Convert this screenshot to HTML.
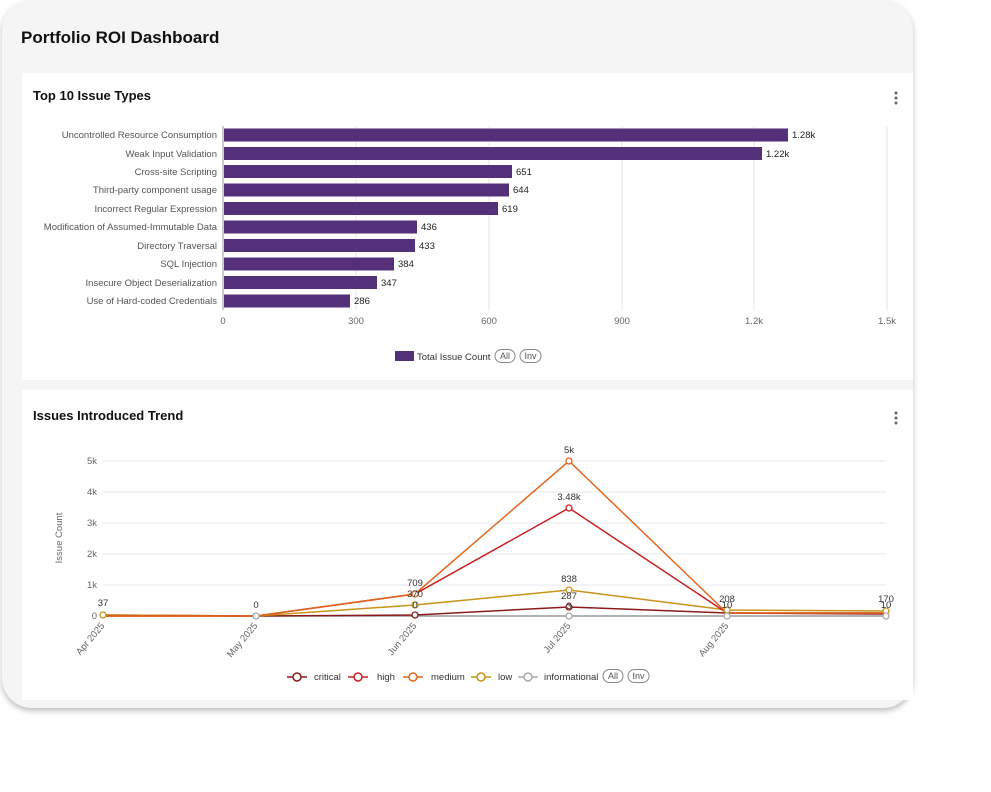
<!DOCTYPE html>
<html><head><style>
body{margin:0;width:991px;height:792px;background:#fff;font-family:"Liberation Sans",sans-serif;overflow:hidden}
.outer{position:absolute;left:2px;top:0;width:911px;height:708px;background:#f5f5f5;border-radius:30px;box-shadow:0 3px 6px rgba(0,0,0,.25)}
.card{position:absolute;left:22px;width:891px;background:#fff}
h1{position:absolute;left:21px;top:28px;margin:0;font-size:17px;font-weight:bold;color:#111}
.t{position:absolute;left:11px;font-size:13px;font-weight:bold;color:#111}
</style></head><body>
<div class="outer"></div>
<h1>Portfolio ROI Dashboard</h1>
<div class="card" style="top:73px;height:307px"><div class="t" style="top:15px">Top 10 Issue Types</div></div>
<div class="card" style="top:390px;height:310px"><div class="t" style="top:18px">Issues Introduced Trend</div></div>
<svg width="991" height="792" style="position:absolute;left:0;top:0" font-family="Liberation Sans,sans-serif">
<g fill="#666"><circle cx="896" cy="93" r="1.5"/><circle cx="896" cy="98" r="1.5"/><circle cx="896" cy="103" r="1.5"/>
<circle cx="896" cy="413" r="1.5"/><circle cx="896" cy="418" r="1.5"/><circle cx="896" cy="423" r="1.5"/></g>
<g stroke="#e6e6e6"><line x1="356" y1="126" x2="356" y2="310"/><line x1="489" y1="126" x2="489" y2="310"/><line x1="622" y1="126" x2="622" y2="310"/><line x1="754" y1="126" x2="754" y2="310"/><line x1="887" y1="126" x2="887" y2="310"/></g>
<line x1="223" y1="126" x2="223" y2="310" stroke="#999"/>
<g font-size="9.5" fill="#666" text-anchor="middle"><text x="223" y="324">0</text><text x="356" y="324">300</text><text x="489" y="324">600</text><text x="622" y="324">900</text><text x="754" y="324">1.2k</text><text x="887" y="324">1.5k</text></g>
<g fill="#55307a">
<rect x="224" y="128.5" width="564" height="13"/><rect x="224" y="147" width="538" height="13"/><rect x="224" y="165" width="288" height="13"/><rect x="224" y="183.5" width="285" height="13"/><rect x="224" y="202" width="274" height="13"/><rect x="224" y="220.5" width="193" height="13"/><rect x="224" y="239" width="191" height="13"/><rect x="224" y="257.5" width="170" height="13"/><rect x="224" y="276" width="153" height="13"/><rect x="224" y="294.5" width="126" height="13"/></g>
<g font-size="9.5" fill="#222">
<text x="792" y="138">1.28k</text><text x="766" y="157">1.22k</text><text x="516" y="175">651</text><text x="513" y="193">644</text><text x="502" y="212">619</text><text x="421" y="230">436</text><text x="419" y="249">433</text><text x="398" y="267">384</text><text x="381" y="286">347</text><text x="354" y="304">286</text></g>
<g font-size="9.5" fill="#555" text-anchor="end">
<text x="217" y="138">Uncontrolled Resource Consumption</text><text x="217" y="157">Weak Input Validation</text><text x="217" y="175">Cross-site Scripting</text><text x="217" y="193">Third-party component usage</text><text x="217" y="212">Incorrect Regular Expression</text><text x="217" y="230">Modification of Assumed-Immutable Data</text><text x="217" y="249">Directory Traversal</text><text x="217" y="267">SQL Injection</text><text x="217" y="286">Insecure Object Deserialization</text><text x="217" y="304">Use of Hard-coded Credentials</text></g>
<rect x="395" y="351" width="19" height="10" fill="#55307a"/>
<text x="417" y="360" font-size="9.5" fill="#333">Total Issue Count</text>
<g fill="none" stroke="#888"><rect x="495" y="349.5" width="20" height="13" rx="6.5"/><rect x="520" y="349.5" width="21" height="13" rx="6.5"/><rect x="603" y="669.5" width="20" height="13" rx="6.5"/><rect x="628" y="669.5" width="21" height="13" rx="6.5"/></g>
<g font-size="9" fill="#555" text-anchor="middle"><text x="505" y="359">All</text><text x="530.5" y="359">Inv</text><text x="613" y="679">All</text><text x="638.5" y="679">Inv</text></g>
<g stroke="#e6e9f0"><line x1="103" y1="461" x2="886" y2="461"/><line x1="103" y1="492" x2="886" y2="492"/><line x1="103" y1="523" x2="886" y2="523"/><line x1="103" y1="554" x2="886" y2="554"/><line x1="103" y1="585" x2="886" y2="585"/></g>
<line x1="103" y1="616" x2="886" y2="616" stroke="#999"/>
<g font-size="9.5" fill="#666" text-anchor="end"><text x="97" y="619">0</text><text x="97" y="588">1k</text><text x="97" y="557">2k</text><text x="97" y="526">3k</text><text x="97" y="495">4k</text><text x="97" y="464">5k</text></g>
<text transform="translate(62,538) rotate(-90)" font-size="9.5" fill="#666" text-anchor="middle">Issue Count</text>
<g font-size="9.5" fill="#666" text-anchor="end">
<text transform="translate(105,626) rotate(-50)">Apr 2025</text><text transform="translate(258,626) rotate(-50)">May 2025</text><text transform="translate(417,626) rotate(-50)">Jun 2025</text><text transform="translate(571,626) rotate(-50)">Jul 2025</text><text transform="translate(729,626) rotate(-50)">Aug 2025</text></g>
<g fill="none" stroke-width="1.5">
<polyline stroke="#999" points="103,616 256,616 415,616 569,616 727,616 886,616"/>
<polyline stroke="#8b1a1a" points="103,615 256,616 415,615 569,607 727,613 886,614"/>
<polyline stroke="#c8941a" points="103,615 256,616 415,605 569,590 727,610 886,611"/>
<polyline stroke="#cc1f1f" points="103,616 256,616 415,594 569,508 727,613 886,613"/>
<polyline stroke="#e0661f" points="103,616 256,616 415,594 569,461 727,613 886,613"/>
</g>
<g fill="#fff" stroke-width="1.3">
<g stroke="#e0661f"><circle cx="415" cy="594" r="3"/><circle cx="569" cy="461" r="3"/></g>
<g stroke="#cc1f1f"><circle cx="569" cy="508" r="3"/></g>
<g stroke="#c8941a"><circle cx="103" cy="615" r="3"/><circle cx="415" cy="605" r="3"/><circle cx="569" cy="590" r="3"/><circle cx="727" cy="610" r="3"/><circle cx="886" cy="611" r="3"/></g>
<g stroke="#8b1a1a"><circle cx="415" cy="615" r="3"/><circle cx="569" cy="607" r="3"/></g>
<g stroke="#aaa"><circle cx="256" cy="616" r="3"/><circle cx="569" cy="616" r="3"/><circle cx="727" cy="616" r="3"/><circle cx="886" cy="616" r="3"/></g>
</g>
<g font-size="9.5" fill="#333" text-anchor="middle">
<text x="569" y="453">5k</text><text x="569" y="500">3.48k</text><text x="569" y="582">838</text><text x="569" y="599">287</text><text x="569" y="609">3</text>
<text x="415" y="586">709</text><text x="415" y="597">370</text><text x="415" y="608">0</text>
<text x="256" y="608">0</text><text x="103" y="606">37</text><text x="727" y="602">208</text><text x="727" y="608">10</text><text x="886" y="602">170</text><text x="886" y="608">10</text></g>
<g stroke-width="1.5" fill="#fff">
<line x1="287" y1="677" x2="307" y2="677" stroke="#8b1a1a"/><circle cx="297" cy="677" r="4" stroke="#8b1a1a"/>
<line x1="348" y1="677" x2="368" y2="677" stroke="#cc1f1f"/><circle cx="358" cy="677" r="4" stroke="#cc1f1f"/>
<line x1="403" y1="677" x2="423" y2="677" stroke="#e0661f"/><circle cx="413" cy="677" r="4" stroke="#e0661f"/>
<line x1="471" y1="677" x2="491" y2="677" stroke="#c8941a"/><circle cx="481" cy="677" r="4" stroke="#c8941a"/>
<line x1="518" y1="677" x2="538" y2="677" stroke="#aaa"/><circle cx="528" cy="677" r="4" stroke="#aaa"/></g>
<g font-size="9.5" fill="#333"><text x="314" y="680">critical</text><text x="377" y="680">high</text><text x="431" y="680">medium</text><text x="498" y="680">low</text><text x="544" y="680">informational</text></g>
</svg>
</body></html>
